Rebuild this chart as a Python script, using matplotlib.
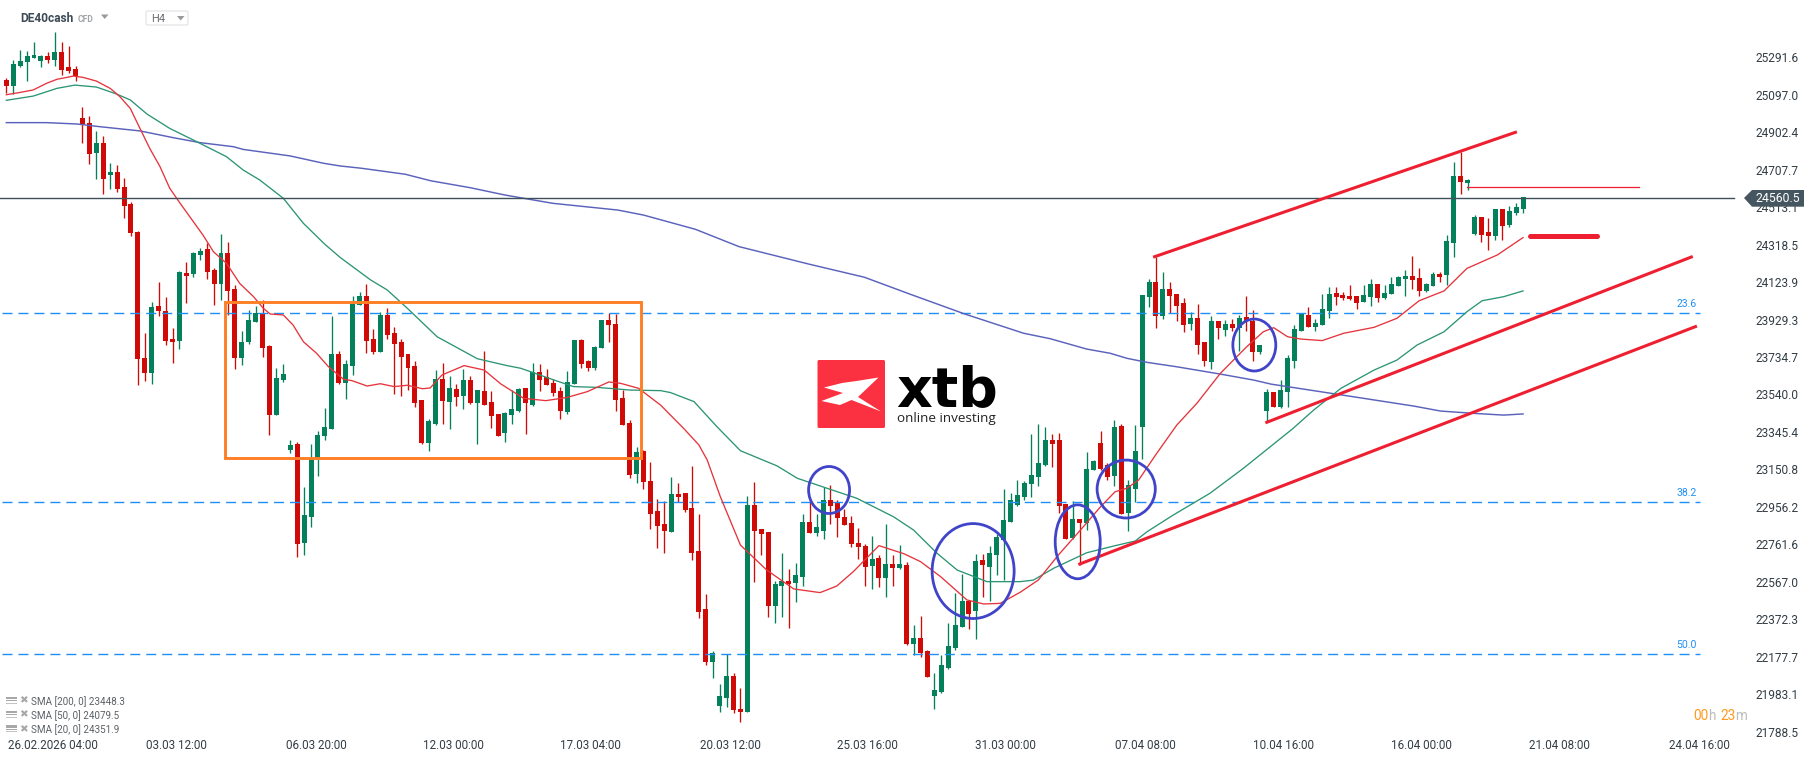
import matplotlib
matplotlib.use("Agg")
import matplotlib.pyplot as plt
from matplotlib.patches import Ellipse, FancyBboxPatch, Polygon, Rectangle

plt.rcParams['font.family'] = ['Roboto', 'DejaVu Sans']

opens = [25174, 25142, 25246, 25267, 25288, 25272, 25298, 25277, 25319, 25241,
         25231, 24976, 24950, 24794, 24846, 24680, 24696, 24618, 24529, 24384,
         23730, 23652, 24000, 23974, 23828, 23818, 24171, 24166, 24265, 24296,
         24187, 24114, 24275, 24088, 23730, 23813, 23917, 23963, 23792, 23434,
         23615, 23252, 23283, 22769, 22904, 23208, 23324, 23361, 23750, 23600,
         23688, 24005, 24052, 23828, 23761, 23953, 23859, 23813, 23750, 23688,
         23511, 23288, 23387, 23620, 23501, 23569, 23532, 23615, 23496, 23558,
         23501, 23439, 23340, 23434, 23454, 23574, 23485, 23657, 23631, 23600,
         23558, 23449, 23595, 23823, 23714, 23678, 23782, 23927, 23906, 23522,
         23392, 23127, 23247, 23091, 22935, 22867, 22826, 23023, 23028, 22950,
         22727, 22426, 22151, 21922, 21964, 22078, 21906, 21891, 22966, 22841,
         22826, 22441, 22545, 22571, 22561, 22592, 22878, 22821, 22831, 22992,
         22976, 22904, 22873, 22769, 22753, 22649, 22691, 22587, 22660, 22639,
         22654, 22244, 22275, 22208, 21974, 21995, 22120, 22223, 22332, 22467,
         22415, 22680, 22644, 22706, 22784, 22878, 22966, 23008, 23075, 23111,
         23174, 23304, 23304, 22971, 22795, 22893, 22872, 23148, 23288, 23174,
         23117, 23376, 22925, 23049, 23371, 24046, 24124, 23948, 24088, 24062,
         24015, 23906, 23937, 23813, 23709, 23922, 23875, 23906, 23885, 23942,
         23922, 23761, 23454, 23553, 23475, 23553, 23714, 23870, 23953, 23891,
         23901, 23974, 24067, 24057, 24052, 24052, 24020, 24046, 24114, 24041,
         24062, 24104, 24140, 24155, 24145, 24078, 24104, 24166, 24161, 24327,
         24675, 24638, 24374, 24462, 24384, 24363, 24503, 24420, 24483, 24503]
highs = [25184, 25277, 25329, 25324, 25371, 25303, 25319, 25423, 25371, 25350,
         25246, 25033, 24986, 24909, 24883, 24742, 24732, 24664, 24540, 24389,
         23859, 24020, 24124, 24046, 23885, 24181, 24228, 24280, 24301, 24327,
         24197, 24374, 24332, 24109, 23870, 23979, 24000, 24031, 23797, 23678,
         23698, 23304, 23293, 23060, 23283, 23350, 23470, 23948, 23766, 23719,
         24052, 24072, 24114, 23880, 23968, 23990, 23891, 23828, 23750, 23714,
         23511, 23413, 23667, 23704, 23636, 23595, 23672, 23636, 23563, 23766,
         23558, 23439, 23449, 23563, 23574, 23574, 23704, 23698, 23672, 23620,
         23579, 23662, 23823, 23828, 23719, 23792, 23927, 23963, 23958, 23563,
         23408, 23267, 23252, 23189, 22997, 22987, 23111, 23080, 23028, 23169,
         22919, 22504, 22208, 22036, 22190, 22094, 22016, 23013, 23085, 22841,
         22826, 22571, 22717, 22634, 22665, 22919, 22982, 22919, 23060, 23070,
         22992, 22945, 22909, 22847, 22763, 22805, 22706, 22867, 22706, 22758,
         22670, 22343, 22390, 22213, 22094, 22187, 22353, 22509, 22608, 22467,
         22712, 22712, 22753, 22815, 23049, 23028, 23096, 23091, 23335, 23387,
         23371, 23335, 23340, 22971, 22987, 22893, 23241, 23200, 23350, 23184,
         23407, 23387, 23096, 23381, 24057, 24140, 24254, 24176, 24124, 24062,
         24041, 23968, 24010, 23813, 23948, 23922, 23927, 23932, 23953, 24052,
         23979, 23797, 23569, 23553, 23615, 23745, 23901, 23963, 23994, 23932,
         24062, 24098, 24098, 24072, 24109, 24052, 24109, 24140, 24114, 24109,
         24150, 24155, 24187, 24259, 24197, 24119, 24176, 24176, 24368, 24748,
         24800, 24659, 24472, 24462, 24457, 24503, 24503, 24519, 24535, 24566]
lows = [25108, 25101, 25243, 25170, 25288, 25243, 25263, 25246, 25199, 25212,
        25168, 24846, 24737, 24659, 24581, 24607, 24592, 24457, 24363, 23589,
        23610, 23595, 23948, 23797, 23704, 23776, 24015, 24150, 24239, 24140,
        24005, 24031, 23953, 23672, 23693, 23802, 23917, 23735, 23330, 23434,
        23605, 23236, 22696, 22706, 22852, 23117, 23304, 23361, 23595, 23517,
        23641, 24005, 23756, 23750, 23761, 23828, 23543, 23532, 23563, 23475,
        23283, 23247, 23382, 23387, 23361, 23480, 23465, 23491, 23283, 23485,
        23366, 23324, 23293, 23387, 23449, 23335, 23480, 23558, 23589, 23532,
        23413, 23439, 23595, 23678, 23662, 23667, 23782, 23813, 23454, 23382,
        23106, 23080, 23049, 22841, 22743, 22717, 22826, 22982, 22930, 22680,
        22379, 22135, 22068, 21891, 21917, 21886, 21839, 21891, 22566, 22706,
        22384, 22353, 22384, 22327, 22462, 22545, 22821, 22805, 22789, 22867,
        22800, 22862, 22748, 22686, 22545, 22530, 22540, 22488, 22545, 22634,
        22239, 22187, 22177, 22073, 21906, 21990, 22114, 22213, 22332, 22322,
        22270, 22488, 22467, 22603, 22577, 22878, 22961, 22992, 23008, 23065,
        23169, 23163, 22924, 22789, 22789, 22654, 22836, 23148, 23148, 23096,
        23065, 22919, 22831, 22982, 23205, 23994, 23885, 23932, 23963, 23922,
        23865, 23875, 23750, 23688, 23672, 23828, 23844, 23870, 23766, 23870,
        23714, 23750, 23397, 23475, 23470, 23475, 23678, 23870, 23891, 23870,
        23901, 23937, 24005, 24031, 24031, 23984, 24020, 24000, 24020, 24036,
        24062, 24104, 24052, 24088, 24052, 24072, 24104, 24124, 24109, 24254,
        24581, 24602, 24368, 24332, 24290, 24342, 24342, 24410, 24472, 24483]
closes = [25142, 25257, 25272, 25298, 25303, 25298, 25277, 25319, 25225, 25220,
          25194, 24945, 24789, 24846, 24659, 24696, 24607, 24519, 24379, 23724,
          23652, 23994, 23974, 23818, 23813, 24176, 24155, 24275, 24285, 24176,
          24114, 24275, 24078, 23730, 23813, 23927, 23963, 23781, 23434, 23626,
          23646, 23278, 22764, 22914, 23205, 23330, 23371, 23750, 23600, 23698,
          24010, 24052, 23818, 23761, 23953, 23849, 23802, 23735, 23678, 23496,
          23288, 23402, 23620, 23506, 23574, 23527, 23615, 23496, 23563, 23485,
          23428, 23324, 23444, 23465, 23569, 23496, 23657, 23615, 23589, 23548,
          23454, 23605, 23823, 23698, 23678, 23787, 23927, 23901, 23511, 23382,
          23122, 23241, 23086, 22919, 22857, 22831, 23023, 23008, 22940, 22717,
          22410, 22151, 22197, 21974, 22078, 21901, 21891, 22966, 22831, 22815,
          22441, 22556, 22571, 22556, 22603, 22878, 22821, 22852, 22992, 22961,
          22899, 22862, 22763, 22748, 22644, 22686, 22587, 22660, 22639, 22660,
          22244, 22275, 22197, 22073, 22005, 22135, 22234, 22343, 22467, 22400,
          22675, 22654, 22717, 22800, 22888, 22992, 23018, 23080, 23122, 23184,
          23304, 23283, 22961, 22789, 22893, 22872, 23153, 23195, 23153, 23111,
          23371, 22919, 23070, 23246, 24057, 24124, 23948, 24088, 24052, 24000,
          23901, 23937, 23797, 23714, 23922, 23885, 23906, 23885, 23937, 23922,
          23761, 23797, 23553, 23475, 23563, 23730, 23880, 23958, 23891, 23911,
          23984, 24062, 24046, 24041, 24036, 24015, 24057, 24114, 24041, 24067,
          24114, 24150, 24155, 24135, 24078, 24114, 24166, 24150, 24337, 24675,
          24644, 24654, 24462, 24368, 24363, 24503, 24415, 24493, 24514, 24566]

sma20_idx = [0, 2, 3.9, 5.8, 7.3, 9.7, 11.1, 13, 15, 16.4, 17.9, 19.3, 20.7, 22.2, 23.6, 25.1,
             27, 28.4, 29.9, 31.8, 33.7, 35.7, 37.1, 38.1, 40, 41.4, 42.9, 44.8, 46.5, 48.7,
             49.9, 52.1, 54, 56, 57.9, 60.1, 61.2, 62.9, 66.1, 69, 71.4, 74.7, 77.9, 81, 83.9,
             87, 88.7, 91.3, 94.5, 97.8, 100, 101.2, 103.1, 106, 109.8, 113.7, 117.5, 119.9,
             122.3, 126, 129.6, 132, 134.9, 138.7, 141.1, 143.5, 146.4, 149, 151.9, 155.1, 158,
             160.1, 161.8, 163.5, 166.1, 169, 171.9, 175.3, 179.1, 181.5, 183, 185, 186.9, 190,
             193.1, 197.5, 200.8, 204, 207.6, 210.9, 215.3, 219]
sma20 = [25097, 25109, 25122, 25156, 25177, 25194, 25187, 25168, 25130, 25087, 25026, 24922,
         24819, 24723, 24611, 24533, 24438, 24368, 24282, 24221, 24117, 24048, 23988, 23958,
         23953, 23901, 23814, 23754, 23685, 23619, 23612, 23584, 23596, 23581, 23588, 23570,
         23574, 23641, 23690, 23667, 23595, 23520, 23508, 23525, 23555, 23605, 23598, 23572,
         23484, 23364, 23278, 23200, 23009, 22758, 22628, 22530, 22511, 22545, 22620, 22755,
         22713, 22672, 22594, 22473, 22452, 22455, 22513, 22576, 22706, 22836, 22957, 23035,
         23053, 23096, 23234, 23381, 23494, 23650, 23788, 23866, 23887, 23840, 23828, 23820,
         23858, 23889, 23936, 24027, 24078, 24195, 24265, 24355]

sma50_idx = [0, 3.9, 7.3, 9.9, 13, 15.9, 17.9, 20.3, 23.6, 27.5, 31.8, 34.2, 36.6, 40, 42.9, 46,
             48.2, 52.6, 55, 57.9, 62.2, 68, 72.3, 74.3, 79.1, 81.9, 85.3, 90.1, 94.5, 95.9,
             99.3, 102.6, 106, 111.3, 114.2, 122.8, 128.1, 131, 134.4, 137.3, 141.6, 146.4,
             148.3, 151.2, 156, 159.9, 163, 164.7, 168.5, 173.8, 178.6, 183.9, 185.7, 188.8,
             192.7, 197.5, 200.8, 203.7, 207.6, 210.9, 213.1, 216.2, 219]
sma50 = [25068, 25090, 25130, 25147, 25137, 25101, 25070, 24997, 24922, 24853, 24775, 24706,
         24654, 24559, 24429, 24320, 24252, 24135, 24083, 23988, 23840, 23726, 23690, 23676,
         23615, 23581, 23577, 23563, 23560, 23550, 23503, 23373, 23248, 23169, 23105, 23001,
         22905, 22836, 22715, 22628, 22568, 22568, 22576, 22637, 22718, 22753, 22779, 22827,
         22914, 23027, 23156, 23309, 23361, 23460, 23572, 23667, 23719, 23797, 23866, 23970,
         24027, 24048, 24078]

sma200_idx = [0, 5.8, 10.2, 13.5, 19.3, 24.1, 28, 32.8, 34.2, 41, 45.8, 48.2, 51.3, 57.6, 61.3,
              67, 72, 78.9, 88.3, 92, 99.5, 105.8, 115.8, 123.9, 130.8, 138.4, 146.9, 150.7,
              156, 159.4, 161.8, 164.7, 169, 175.3, 180.1, 182.6, 192.2, 203.2, 207.1, 211.9,
              216.2, 219]
sma200 = [24952, 24952, 24945, 24931, 24909, 24874, 24848, 24827, 24813, 24779, 24741, 24727,
          24715, 24684, 24650, 24614, 24576, 24533, 24498, 24472, 24398, 24308, 24218, 24149,
          24057, 23958, 23858, 23830, 23776, 23754, 23728, 23707, 23684, 23646, 23615, 23594,
          23541, 23480, 23454, 23442, 23433, 23439]

price_ticks = [25291.6, 25097.0, 24902.4, 24707.7, 24513.1, 24318.5, 24123.9, 23929.3, 23734.7,
               23540.0, 23345.4, 23150.8, 22956.2, 22761.6, 22567.0, 22372.3, 22177.7, 21983.1,
               21788.5]
date_pos = [6.7, 24.6, 44.7, 64.5, 84.3, 104.5, 124.3, 144.2, 164.5, 184.4, 204.3, 224.3, 244.4]
date_labels = ['26.02.2026 04:00', '03.03 12:00', '06.03 20:00', '12.03 00:00', '17.03 04:00',
               '20.03 12:00', '25.03 16:00', '31.03 00:00', '07.04 08:00', '10.04 16:00',
               '16.04 00:00', '21.04 08:00', '24.04 16:00']
fib_levels = [23962, 22980, 22190]
fib_labels = ['23.6', '38.2', '50.0']
last_price = 24560.5
legend_rows = ['SMA [200, 0] 23448.3', 'SMA [50, 0] 24079.5', 'SMA [20, 0] 24351.9']

GREEN = '#04805a'
RED = '#d00a06'
LINE_RED = '#ee1f30'
CIRCLE = '#4044c8'

W, H = 1816, 761
fig = plt.figure(figsize=(W / 100, H / 100), dpi=100, facecolor='white')
ax = fig.add_axes([0, 0, 1, 1])
ax.set_xlim(-0.91, 261.3)
ax.set_ylim(21636.4, 25589)
for s in ax.spines.values():
    s.set_visible(False)

# candles
idx = list(range(len(opens)))
colors = [GREEN if c >= o else RED for o, c in zip(opens, closes)]
ax.vlines(idx, lows, highs, colors=colors, linewidth=0.95, zorder=2)
ax.bar(idx, [abs(c - o) for o, c in zip(opens, closes)],
       bottom=[min(o, c) for o, c in zip(opens, closes)],
       width=0.72, color=colors, linewidth=0, zorder=3)

# fibo levels
for lvl, lab in zip(fib_levels, fib_labels):
    ax.plot([-0.6, 244.6], [lvl, lvl], color='#1e90f5', lw=1.0,
            dashes=(7.2, 4.3), zorder=4)
    ax.text(244.1, lvl + 22, lab, color='#1e90f5', fontsize=7.5,
            ha='right', va='bottom', zorder=4)

ax.plot(sma200_idx, sma200, color='#5a62bc', lw=1.05, zorder=5)
ax.plot(sma50_idx, sma50, color='#2b9575', lw=0.95, zorder=5)
ax.plot(sma20_idx, sma20, color='#e5343c', lw=0.95, zorder=6)

ax.plot([-0.91, 249.5], [last_price, last_price], color='#3f505a', lw=1.0, zorder=6)

# orange consolidation box
ax.add_patch(Rectangle((31.6, 23208.6), 60.0, 811.8, fill=False,
                       edgecolor='#ff7f27', lw=2.1, zorder=7))

# drawn channel lines
ax.plot([165.8, 217.9], [24255.7, 24901.8], color=LINE_RED, lw=2.2, zorder=7)
ax.plot([182.0, 243.3], [23395.6, 24254.1], color=LINE_RED, lw=2.2, zorder=7)
ax.plot([155.0, 243.9], [22659.6, 23892.6], color=LINE_RED, lw=2.2, zorder=7)
ax.plot([220.0, 229.7], [24363, 24363], color=LINE_RED, lw=3.6,
        solid_capstyle='round', zorder=7)
ax.plot([210.9, 235.8], [24619.3, 24619.3], color=LINE_RED, lw=0.9, zorder=7)

# blue circles
for cx, cy, w, h in [(118.8, 23044, 5.92, 244), (139.6, 22623, 11.84, 493),
                     (154.7, 22775, 6.5, 384), (161.7, 23049, 8.4, 301),
                     (180.2, 23797, 6.2, 270)]:
    ax.add_patch(Ellipse((cx, cy), w, h, fill=False, edgecolor=CIRCLE, lw=2.0, zorder=8))

ax.yaxis.tick_right()
ax.set_yticks(price_ticks)
ax.set_yticklabels([f'{p:.1f}' for p in price_ticks])
ax.tick_params(axis='y', length=0, pad=-43.2, labelsize=8.6, labelcolor='#333d45')
ax.set_xticks(date_pos)
ax.set_xticklabels(date_labels)
ax.tick_params(axis='x', length=0, pad=-15.8, labelsize=8.4, labelcolor='#333d45')

# overlay in screen pixels: header, logo, legend, price tag
top = fig.add_axes([0, 0, 1, 1], zorder=5)
top.set_xlim(0, W)
top.set_ylim(H, 0)
top.axis('off')

top.text(20, 19, 'DE40cash', fontsize=8.6, fontweight='bold', color='#3d4a55', va='center')
top.text(78, 19.5, 'CFD', fontsize=6.2, color='#a0a5a9', va='center', fontweight='bold')
top.add_patch(Polygon([(101, 14.5), (108.5, 14.5), (104.7, 19)], color='#9a9a9a', lw=0))
top.add_patch(FancyBboxPatch((146, 11), 42, 14, boxstyle='round,pad=0,rounding_size=1.5',
                             fc='white', ec='#e2e2e2', lw=0.8))
top.text(151, 19.5, 'H4', fontsize=8, color='#6a6f73', va='center')
top.add_patch(Polygon([(177, 16), (184.5, 16), (180.7, 20.5)], color='#9a9a9a', lw=0))

# xtb logo
top.add_patch(FancyBboxPatch((817.5, 360), 67.5, 68, boxstyle='round,pad=0,rounding_size=1.5',
                             fc='#fb3040', ec='none'))
top.add_patch(Polygon([(824, 387.5), (842, 383), (856.5, 381), (878.5, 377.5), (858, 397),
                       (881, 411.5), (851.5, 400), (840, 405), (821.5, 401), (843, 393)],
                      color='white', lw=0))
top.text(896, 406.5, 'xtb', fontsize=40, fontweight='bold', family='DejaVu Sans',
         color='black', va='baseline')
top.text(897, 418.5, 'online investing', fontsize=9.7, family='Open Sans',
         color='#222222', va='center')

# indicator legend
for y, row in zip([700.7, 714.7, 729], legend_rows):
    top.add_patch(Rectangle((6, y - 4), 11, 2.5, color='#a8a8a8', lw=0))
    top.add_patch(Rectangle((6, y - 0.5), 11, 1.2, color='#a8a8a8', lw=0))
    top.add_patch(Rectangle((6, y + 2), 11, 1.4, color='#c4c4c4', lw=0))
    top.text(23, y, '\u2716', fontsize=7.5, color='#a8a8a8', ha='center', va='center',
             family='DejaVu Sans')
    top.text(31, y + 0.5, row, fontsize=7.1, color='#5c6166', va='center')

# last price tag
top.add_patch(Polygon([(1744, 198), (1752, 190), (1804, 190), (1804, 206.7), (1752, 206.7)],
                      color='#465660', lw=0))
top.text(1756, 199, f'{last_price:.1f}', fontsize=8.8, color='white', va='center')

# candle countdown
top.text(1693, 716, '00', fontsize=9.8, color='#ff9a1f', va='center')
top.text(1708.5, 716, 'h', fontsize=9.8, color='#bdbdbd', va='center')
top.text(1720, 716, '23', fontsize=9.8, color='#ff9a1f', va='center')
top.text(1735.5, 716, 'm', fontsize=9.8, color='#bdbdbd', va='center')

fig.savefig('out.png', dpi=100)
